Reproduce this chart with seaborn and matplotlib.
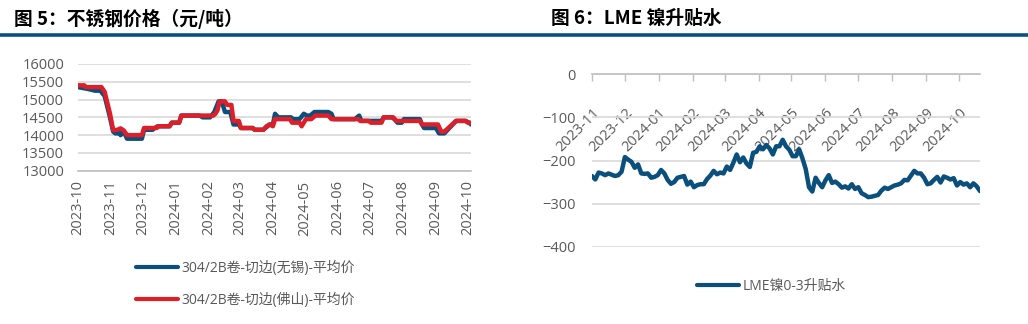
import numpy as np
import pandas as pd
import matplotlib
matplotlib.use("Agg")
import matplotlib.pyplot as plt
import matplotlib.dates as mdates
from matplotlib.lines import Line2D
import seaborn as sns

# ---------------- data ----------------
wuxi_dates = ["2023-10-01", "2023-10-10", "2023-10-17", "2023-10-22", "2023-10-26", "2023-10-31",
              "2023-11-03", "2023-11-05", "2023-11-08", "2023-11-09", "2023-11-10", "2023-11-13",
              "2023-11-16", "2023-11-30", "2023-12-02", "2023-12-10", "2023-12-12", "2023-12-15",
              "2023-12-26", "2023-12-28", "2024-01-04", "2024-01-06", "2024-01-23", "2024-01-26",
              "2024-02-02", "2024-02-06", "2024-02-10", "2024-02-13", "2024-02-16", "2024-02-21",
              "2024-02-24", "2024-02-29", "2024-03-02", "2024-03-13", "2024-03-15", "2024-03-23",
              "2024-03-29", "2024-04-01", "2024-04-03", "2024-04-06", "2024-04-18", "2024-04-20",
              "2024-04-26", "2024-04-30", "2024-05-03", "2024-05-06", "2024-05-10", "2024-05-23",
              "2024-05-26", "2024-05-28", "2024-06-17", "2024-06-19", "2024-06-21", "2024-06-23",
              "2024-07-12", "2024-07-14", "2024-07-22", "2024-07-24", "2024-07-27", "2024-07-31",
              "2024-08-02", "2024-08-17", "2024-08-19", "2024-08-21", "2024-09-01", "2024-09-04",
              "2024-09-09", "2024-09-20", "2024-09-29", "2024-10-02", "2024-10-04"]
wuxi_prices = [15350, 15300, 15250, 15250, 15100, 14500,
               14100, 14050, 14050, 14100, 14000, 14100,
               13900, 13900, 14150, 14150, 14200, 14250,
               14250, 14350, 14350, 14550, 14550, 14500,
               14500, 14650, 14950, 14950, 14650, 14650,
               14300, 14300, 14200, 14200, 14150, 14150,
               14300, 14300, 14600, 14500, 14500, 14450,
               14450, 14600, 14550, 14550, 14650, 14650,
               14600, 14450, 14450, 14500, 14550, 14400,
               14400, 14500, 14500, 14450, 14350, 14350,
               14450, 14450, 14300, 14200, 14200, 14050,
               14050, 14400, 14400, 14350, 14300]

foshan_dates = ["2023-10-01", "2023-10-07", "2023-10-08", "2023-10-23", "2023-10-26", "2023-10-31",
                "2023-11-03", "2023-11-07", "2023-11-10", "2023-11-13", "2023-11-16", "2023-11-30",
                "2023-12-02", "2023-12-14", "2023-12-15", "2023-12-26", "2023-12-28", "2024-01-04",
                "2024-01-06", "2024-02-05", "2024-02-07", "2024-02-09", "2024-02-11", "2024-02-16",
                "2024-02-18", "2024-02-22", "2024-02-24", "2024-02-29", "2024-03-02", "2024-03-13",
                "2024-03-15", "2024-03-23", "2024-03-26", "2024-03-29", "2024-04-01", "2024-04-03",
                "2024-04-17", "2024-04-19", "2024-04-26", "2024-04-28", "2024-05-02", "2024-05-07",
                "2024-05-11", "2024-05-23", "2024-05-26", "2024-06-20", "2024-06-22", "2024-06-30",
                "2024-07-02", "2024-07-12", "2024-07-14", "2024-07-23", "2024-07-26", "2024-08-17",
                "2024-08-19", "2024-09-03", "2024-09-06", "2024-09-09", "2024-09-20", "2024-09-29",
                "2024-10-01", "2024-10-04"]
foshan_prices = [15400, 15400, 15350, 15350, 15220, 14610,
                 14140, 14150, 14190, 14130, 14000, 14000,
                 14200, 14200, 14250, 14250, 14350, 14350,
                 14550, 14550, 14600, 14700, 14950, 14950,
                 14850, 14850, 14400, 14400, 14200, 14200,
                 14150, 14150, 14250, 14300, 14250, 14450,
                 14450, 14350, 14350, 14250, 14450, 14450,
                 14550, 14550, 14450, 14450, 14400, 14400,
                 14350, 14350, 14500, 14500, 14400, 14400,
                 14300, 14300, 14100, 14100, 14400, 14400,
                 14350, 14350]

lme_start = "2023-11-01"
lme_spread = [-236, -244, -228, -230, -234, -230, -233, -236, -234, -226,
              -192, -198, -203, -217, -209, -230, -231, -230, -240, -238,
              -234, -222, -230, -245, -254, -250, -240, -238, -236, -256,
              -249, -262, -257, -255, -255, -243, -235, -224, -232, -228,
              -230, -214, -222, -205, -186, -204, -193, -207, -215, -182,
              -180, -167, -174, -164, -172, -186, -167, -167, -152, -167,
              -175, -190, -190, -174, -195, -220, -262, -272, -240, -252,
              -262, -246, -234, -252, -249, -255, -263, -260, -265, -255,
              -266, -262, -276, -280, -285, -284, -282, -280, -270, -263,
              -266, -262, -258, -256, -253, -245, -246, -235, -224, -230,
              -230, -240, -255, -253, -245, -238, -251, -237, -240, -244,
              -241, -258, -250, -256, -253, -262, -253, -260, -271]

left_title = "图 5：不锈钢价格（元/吨）"
right_title = "图 6：LME 镍升贴水"
wuxi_label = "304/2B卷-切边(无锡)-平均价"
foshan_label = "304/2B卷-切边(佛山)-平均价"
lme_label = "LME镍0-3升贴水"

# ---------------- style ----------------
sns.set_theme(style="white")
plt.rcParams['font.family'] = ['Open Sans', 'Noto Sans CJK SC', 'DejaVu Sans']

BLUE = "#0B4F7C"
RED = "#DD1F2A"
GRID = "#D9D9D9"
AXIS = "#BFBFBF"
TXT = "#595959"
W, H = 1028, 324

fig = plt.figure(figsize=(W / 100, H / 100), dpi=100)
fig.patch.set_facecolor("white")

# header rule and titles
fig.add_artist(Line2D([0, 1], [1 - 34.5 / H] * 2, transform=fig.transFigure, color="#0A4F80", lw=2.6))
fig.text(14 / W, 1 - 18.5 / H, left_title, family=['Noto Sans CJK SC'], weight='black',
         fontsize=13.5, va='center', ha='left', color='black')
fig.text(551 / W, 1 - 18.5 / H, right_title, family=['Noto Sans CJK SC'], weight='black',
         fontsize=13.5, va='center', ha='left', color='black')

# ---------------- left chart ----------------
ax1 = fig.add_axes([78 / W, 1 - 170.7 / H, 393 / W, 106.7 / H])
df_w = pd.DataFrame({"date": pd.to_datetime(wuxi_dates), "price": wuxi_prices})
df_f = pd.DataFrame({"date": pd.to_datetime(foshan_dates), "price": foshan_prices})
sns.lineplot(data=df_w, x="date", y="price", ax=ax1, color=BLUE, lw=3.2, legend=False)
sns.lineplot(data=df_f, x="date", y="price", ax=ax1, color=RED, lw=3.2, legend=False)
ax1.set_ylim(13000, 16000)
ax1.set_yticks(np.arange(13000, 16001, 500))
ax1.set_xlim(pd.Timestamp("2023-10-01"), pd.Timestamp("2024-10-04"))
ax1.set_xticks(pd.date_range("2023-10-01", "2024-10-01", freq="MS"))
ax1.xaxis.set_major_formatter(mdates.DateFormatter("%Y-%m"))
ax1.grid(axis='y', color=GRID, lw=1.2)
ax1.set_axisbelow(True)
for s in ["top", "right", "left"]:
    ax1.spines[s].set_visible(False)
ax1.spines["bottom"].set_color(AXIS)
ax1.spines["bottom"].set_linewidth(1.2)
ax1.tick_params(axis='x', length=4, color=AXIS, width=1, direction='out', pad=3,
                labelsize=10.5, labelcolor=TXT, rotation=90)
ax1.tick_params(axis='y', length=0, pad=10, labelsize=10.5, labelcolor=TXT)
ax1.set_xlabel("")
ax1.set_ylabel("")

h1 = [Line2D([], [], color=BLUE, lw=3, solid_capstyle='round'),
      Line2D([], [], color=RED, lw=3, solid_capstyle='round')]
fig.legend(h1, [wuxi_label, foshan_label], loc='upper left',
           bbox_to_anchor=(136 / W, 1 - 261 / H), frameon=False, fontsize=10,
           handlelength=3.0, handletextpad=0.3, labelspacing=1.2, borderpad=0,
           borderaxespad=0, labelcolor=TXT)

# ---------------- right chart ----------------
ax2 = fig.add_axes([592 / W, 1 - 246.7 / H, 388 / W, 172.4 / H])
df_l = pd.DataFrame({"date": pd.date_range(lme_start, periods=len(lme_spread), freq="3D"),
                     "spread": lme_spread})
sns.lineplot(data=df_l, x="date", y="spread", ax=ax2, color=BLUE, lw=3.2, legend=False)
ax2.set_ylim(-400, 0)
ax2.set_yticks(np.arange(-400, 1, 100))
ax2.set_xlim(pd.Timestamp("2023-11-01"), df_l["date"].iloc[-1])
ax2.set_xticks(pd.date_range("2023-11-01", "2024-10-01", freq="MS"))
ax2.xaxis.set_major_formatter(mdates.DateFormatter("%Y-%m"))
ax2.grid(axis='y', color=GRID, lw=1.2)
ax2.set_axisbelow(True)
for s in ["bottom", "right", "left"]:
    ax2.spines[s].set_visible(False)
ax2.spines["top"].set_color(AXIS)
ax2.spines["top"].set_linewidth(1.2)
ax2.xaxis.set_ticks_position('top')
ax2.tick_params(axis='x', top=True, bottom=False, labeltop=True, labelbottom=False,
                length=5, color=AXIS, width=1, direction='in', pad=-22,
                labelsize=10.5, labelcolor=TXT)
for lab in ax2.get_xticklabels():
    lab.set_rotation(45)
    lab.set_rotation_mode('anchor')
    lab.set_ha('right')
    lab.set_va('top')
ax2.tick_params(axis='y', length=0, pad=12, labelsize=10.5, labelcolor=TXT)
ax2.set_xlabel("")
ax2.set_ylabel("")

h2 = [Line2D([], [], color=BLUE, lw=3, solid_capstyle='round')]
fig.legend(h2, [lme_label], loc='upper left',
           bbox_to_anchor=(697 / W, 1 - 279 / H), frameon=False, fontsize=10,
           handlelength=3.0, handletextpad=0.3, borderpad=0, borderaxespad=0,
           labelcolor=TXT)

fig.savefig("out.png", dpi=100, facecolor="white")
